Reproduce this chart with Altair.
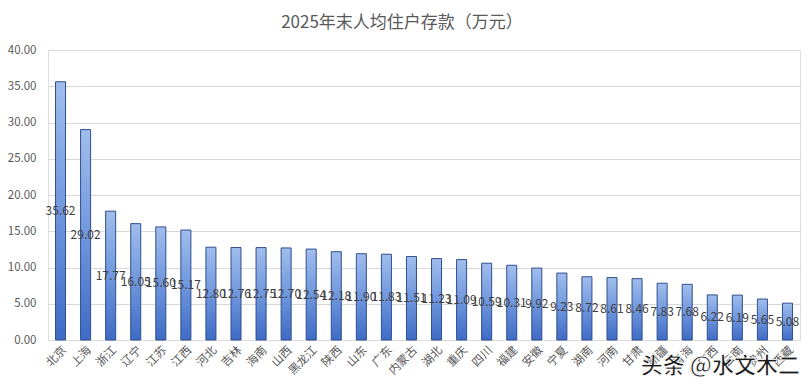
import altair as alt
import pandas as pd

provinces = ["北京", "上海", "浙江", "辽宁", "江苏", "江西", "河北", "吉林", "海南", "山西",
             "黑龙江", "陕西", "山东", "广东", "内蒙古", "湖北", "重庆", "四川", "福建", "安徽",
             "宁夏", "湖南", "河南", "甘肃", "新疆", "青海", "广西", "云南", "贵州", "西藏"]
values = [35.62, 29.02, 17.77, 16.05, 15.60, 15.17, 12.80, 12.76, 12.75, 12.70,
          12.54, 12.18, 11.90, 11.83, 11.51, 11.23, 11.09, 10.59, 10.31, 9.92,
          9.23, 8.72, 8.61, 8.46, 7.83, 7.68, 6.22, 6.19, 5.65, 5.08]
y_ticks = [0, 5, 10, 15, 20, 25, 30, 35, 40]

df = pd.DataFrame({"province": provinces, "value": values})
df["half"] = df["value"] / 2
df["label"] = df["value"].map(lambda v: f"{v:.2f}")

FONT = "Noto Sans CJK SC"

x = alt.X("province:N", sort=provinces, title=None,
          scale=alt.Scale(paddingInner=0.6, paddingOuter=0.3),
          axis=alt.Axis(labelAngle=-45, labelAlign="right", labelBaseline="top",
                        labelFontSize=11.5, labelColor="#595959", labelFont=FONT,
                        ticks=False, domain=False, labelPadding=4))

yscale = alt.Scale(domain=[0, 40])
yaxis = alt.Axis(values=y_ticks, format=".2f",
                 labelFontSize=11.5, labelColor="#595959", labelFont=FONT,
                 ticks=False, domain=False, gridColor="#d9d9d9",
                 labelPadding=12, labelOverlap=False)

grad = alt.Gradient(
    gradient="linear", x1=0, y1=0, x2=0, y2=1,
    stops=[alt.GradientStop(color="#a0bdec", offset=0),
           alt.GradientStop(color="#7097dd", offset=0.5),
           alt.GradientStop(color="#3e6bc5", offset=1)])

bars = alt.Chart(df).mark_bar(color=grad, stroke="#2f4f8f", strokeWidth=1).encode(
    x=x,
    y=alt.Y("value:Q", title=None, scale=yscale, axis=yaxis),
)

labels = alt.Chart(df).mark_text(fontSize=12, color="#404040", font=FONT).encode(
    x=x,
    y=alt.Y("half:Q", title=None, scale=yscale, axis=yaxis),
    text="label:N",
)

watermark = alt.Chart(pd.DataFrame({"t": ["头条 @水文木二"]})).mark_text(
    fontSize=22, color="#1a1a1a", font=FONT, fontWeight="bold", align="right",
    baseline="middle", stroke="white", strokeWidth=0.8
).encode(x=alt.value(752), y=alt.value(316), text="t:N")

chart = alt.layer(bars, labels, watermark).properties(
    width=752, height=290,
    title=alt.TitleParams("2025年末人均住户存款（万元）", fontSize=17, color="#595959",
                          font=FONT, fontWeight="normal", offset=12, dx=-22),
    autosize=alt.AutoSizeParams(type="none"),
    padding={"left": 40, "top": 42, "right": 2, "bottom": 44},
).configure_view(stroke=None).configure(background="white")

chart.save("out.html", embed_options={"renderer": "svg", "actions": False})
